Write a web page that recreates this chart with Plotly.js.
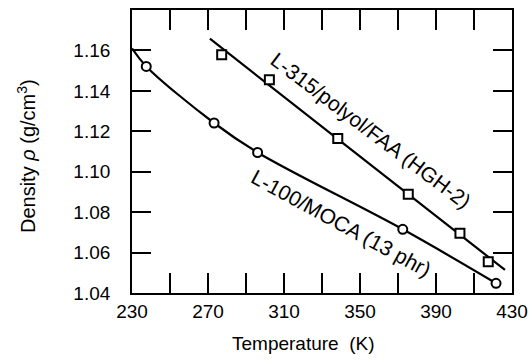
<!DOCTYPE html>
<html>
<head>
<meta charset="utf-8">
<script src="https://cdn.plot.ly/plotly-3.0.1.min.js"></script>
<style>
  html, body { margin: 0; padding: 0; background: #ffffff; }
  #chart { width: 529px; height: 360px; }
</style>
</head>
<body>
<div id="chart"></div>
<script>
// Measured densities (g/cm^3) against temperature (K)
const mocaTemp = [237.5, 273.2, 296.1, 372.5, 421.6];
const mocaDensity = [1.1521, 1.1241, 1.1095, 1.0715, 1.0448];

const faaTemp = [277.2, 302.3, 338.3, 375.4, 402.6, 417.5];
const faaDensity = [1.1579, 1.1455, 1.1164, 1.0889, 1.0695, 1.0555];

// Smooth fitted curves drawn through each data set
const mocaFitTemp = [230, 237.5, 273.2, 296.1, 372.5, 421.6];
const mocaFitDensity = [1.161, 1.1521, 1.1241, 1.1095, 1.0715, 1.0448];

const faaFitTemp = [271, 338, 426.3];
const faaFitDensity = [1.1658, 1.1164, 1.0514];

// Axis ticks: every 20 K / 0.02 g/cm^3, labels on alternate x ticks
const xTickVals = [230, 250, 270, 290, 310, 330, 350, 370, 390, 410, 430];
const xTickText = ['230', ' ', '270', ' ', '310', ' ', '350', ' ', '390', ' ', '430'];
const yTickVals = [1.04, 1.06, 1.08, 1.10, 1.12, 1.14, 1.16, 1.18];
const yTickText = ['1.04', '1.06', '1.08', '1.10', '1.12', '1.14', '1.16', ' '];

// Curve labels
const labelText = ['L-315/polyol/FAA (HGH-2)', 'L-100/MOCA (13 phr)'];
const labelTemp = [355.8, 340.5];
const labelDensity = [1.1205, 1.0746];
const labelAngle = [37, 28.5];

const FONT = 'Liberation Sans, Arial, Helvetica, sans-serif';
const GAP = '\u00a0\u00a0\u00a0';  // space between the y labels and the frame

const traces = [
  {
    x: mocaFitTemp, y: mocaFitDensity, mode: 'lines', type: 'scatter',
    line: { color: '#000', width: 2.2, shape: 'spline', smoothing: 1 },
    hoverinfo: 'skip'
  },
  {
    x: faaFitTemp, y: faaFitDensity, mode: 'lines', type: 'scatter',
    line: { color: '#000', width: 2.2, shape: 'spline', smoothing: 1 },
    hoverinfo: 'skip'
  },
  {
    x: mocaTemp, y: mocaDensity, mode: 'markers', type: 'scatter',
    marker: { symbol: 'circle', size: 9, color: '#fff', line: { color: '#000', width: 2 } }
  },
  {
    x: faaTemp, y: faaDensity, mode: 'markers', type: 'scatter',
    marker: { symbol: 'square', size: 9, color: '#fff', line: { color: '#000', width: 2 } }
  }
];

const annotations = labelText.map((t, i) => ({
  x: labelTemp[i], y: labelDensity[i], xref: 'x', yref: 'y',
  text: t, showarrow: false, textangle: labelAngle[i],
  xanchor: 'center', yanchor: 'middle',
  font: { family: FONT, size: 21, color: '#000' }
}));

annotations.push({
  x: 0.4526, y: -0.18, xref: 'paper', yref: 'paper',
  text: 'Temperature  (K)', showarrow: false,
  xanchor: 'center', yanchor: 'middle',
  font: { family: FONT, size: 19, color: '#000' }
});
annotations.push({
  x: -0.279, y: 0.484, xref: 'paper', yref: 'paper',
  text: 'Density <i>ρ</i> (g/cm<sup>3</sup>)', showarrow: false, textangle: -90,
  xanchor: 'center', yanchor: 'middle',
  font: { family: FONT, size: 20, color: '#000' }
});

const layout = {
  width: 529, height: 360,
  margin: { l: 132, r: 17, t: 10, b: 67 },
  paper_bgcolor: '#fff', plot_bgcolor: '#fff',
  showlegend: false,
  font: { family: FONT, color: '#000' },
  xaxis: {
    range: [230, 430], tickmode: 'array', tickvals: xTickVals, ticktext: xTickText,
    ticks: 'inside', ticklen: 20, tickwidth: 2, tickcolor: '#000',
    showline: true, linewidth: 2, linecolor: '#000', mirror: 'ticks',
    showgrid: false, zeroline: false,
    tickfont: { family: FONT, size: 19, color: '#000' }
  },
  yaxis: {
    range: [1.04, 1.18], tickmode: 'array', tickvals: yTickVals,
    ticktext: yTickText.map(t => t + GAP),
    ticks: 'inside', ticklen: 19, tickwidth: 2, tickcolor: '#000',
    showline: true, linewidth: 2, linecolor: '#000', mirror: 'ticks',
    showgrid: false, zeroline: false,
    tickfont: { family: FONT, size: 19, color: '#000' }
  },
  annotations: annotations
};

Plotly.newPlot('chart', traces, layout, { staticPlot: true, displayModeBar: false });
</script>
</body>
</html>
